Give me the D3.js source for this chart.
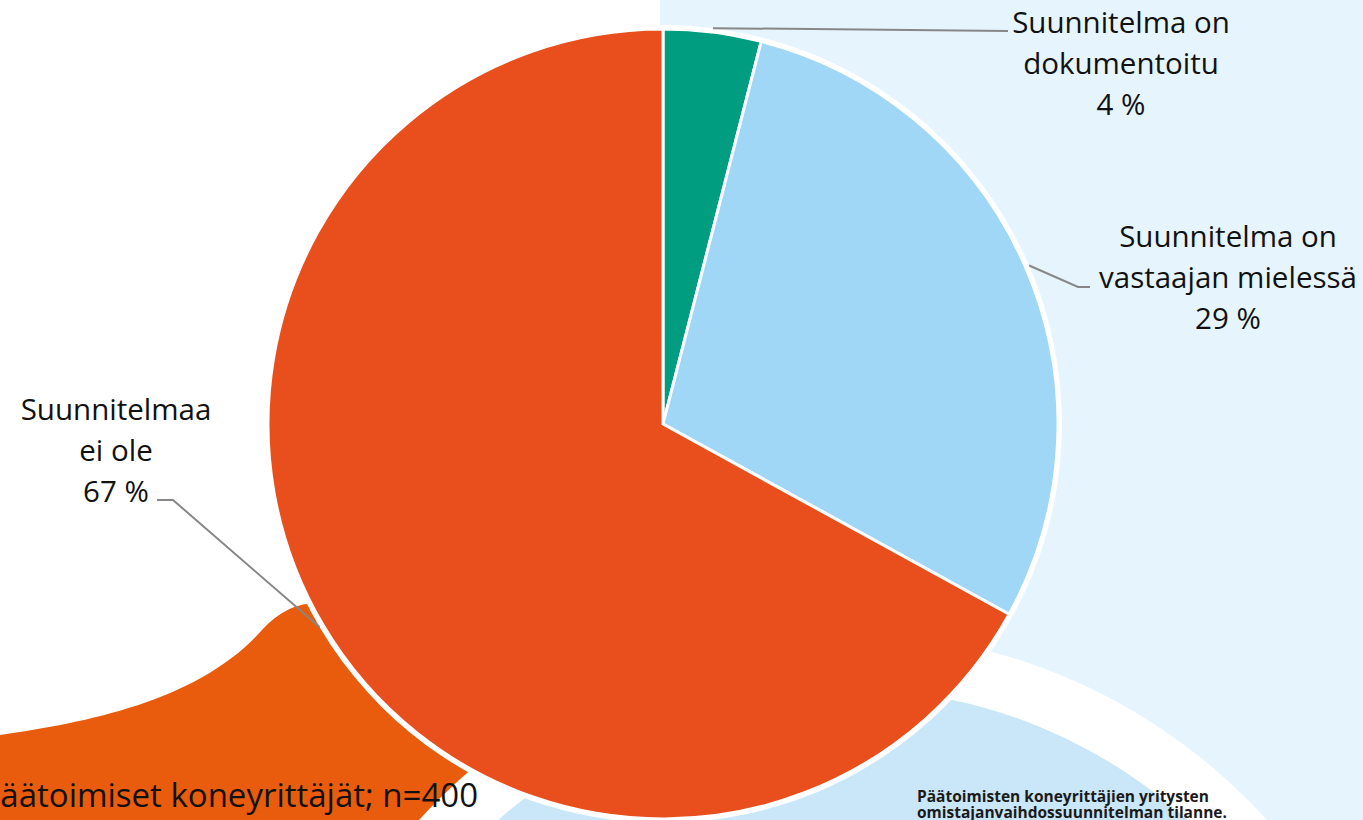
<!DOCTYPE html>
<html>
<head>
<meta charset="utf-8">
<script src="https://cdn.jsdelivr.net/npm/d3@7"></script>
<style>
  html, body { margin: 0; padding: 0; background: #ffffff; overflow: hidden; }
  svg { display: block; }
</style>
</head>
<body>
<svg id="chart" width="1363" height="820"></svg>
<script>
// ---- data ----
const categories = ["Suunnitelma on dokumentoitu", "Suunnitelma on vastaajan mielessä", "Suunnitelmaa ei ole"];
const values = [4, 29, 67];
const labelLines = [
  ["Suunnitelma on", "dokumentoitu", "4 %"],
  ["Suunnitelma on", "vastaajan mielessä", "29 %"],
  ["Suunnitelmaa", "ei ole", "67 %"]
];
const colors = ["#009D81", "#A0D6F6", "#E94F1C"];
const sampleNote = "Päätoimiset koneyrittäjät; n=400";
const captionLines = ["Päätoimisten koneyrittäjien yritysten", "omistajanvaihdossuunnitelman tilanne."];

// ---- layout ----
const W = 1363, H = 820;
const cx = 663, cy = 424, R = 395;
const svg = d3.select("#chart");
const FONT = "'Open Sans', 'Noto Sans', sans-serif";

// background decorations
svg.append("rect").attr("x", 660).attr("y", 0).attr("width", W - 660).attr("height", H).attr("fill", "#E6F4FD");
svg.append("path")
  .attr("d", "M0,735 C90,722 200,700 262,630 C280,610 300,603 312,604 L560,860 L0,860 Z")
  .attr("fill", "#E95C0D");
const ringC = [843, 1204];
svg.append("circle").attr("cx", ringC[0]).attr("cy", ringC[1]).attr("r", 572).attr("fill", "#ffffff");
svg.append("circle").attr("cx", ringC[0]).attr("cy", ringC[1]).attr("r", 516).attr("fill", "#C9E7F8");

// pie
const pie = d3.pie().sort(null).value(d => d)(values);
const arc = d3.arc().innerRadius(0).outerRadius(R);
const g = svg.append("g").attr("transform", `translate(${cx},${cy})`);
g.append("circle").attr("r", R + 4).attr("fill", "#ffffff");
g.selectAll("path.slice").data(pie).enter().append("path")
  .attr("class", "slice")
  .attr("d", arc)
  .attr("fill", (d, i) => colors[i])
  .attr("stroke", "#ffffff")
  .attr("stroke-width", 3)
  .attr("stroke-linejoin", "round");

// leaders
function edgePoint(d) {
  const a = (d.startAngle + d.endAngle) / 2;
  return [cx + (R + 4) * Math.sin(a), cy - (R + 4) * Math.cos(a)];
}
const leaderBends = [
  [[1008, 31]],
  [[1078, 287], [1090, 287]],
  [[173, 500], [157, 500]]
];
pie.forEach((d, i) => {
  const pts = [edgePoint(d)].concat(leaderBends[i]);
  svg.append("path")
    .attr("d", d3.line()(pts))
    .attr("fill", "none")
    .attr("stroke", "#878787")
    .attr("stroke-width", 2);
});

// labels
const labelPos = [
  { x: 1121, y: 33 },
  { x: 1228, y: 247 },
  { x: 116, y: 420 }
];
labelLines.forEach((lines, i) => {
  const t = svg.append("text")
    .attr("x", labelPos[i].x).attr("y", labelPos[i].y)
    .attr("text-anchor", "middle")
    .attr("font-family", FONT)
    .attr("font-size", 29.5)
    .attr("fill", "#111111");
  lines.forEach((ln, j) => {
    t.append("tspan").attr("x", labelPos[i].x).attr("dy", j === 0 ? 0 : 41).text(ln);
  });
});

// sample note
svg.append("text")
  .attr("x", 478).attr("y", 807)
  .attr("text-anchor", "end")
  .attr("font-family", FONT)
  .attr("font-size", 33)
  .attr("fill", "#111111")
  .text(sampleNote);

// caption
const cap = svg.append("text")
  .attr("x", 917).attr("y", 802)
  .attr("font-family", FONT)
  .attr("font-size", 15.5)
  .attr("font-weight", "bold")
  .attr("fill", "#1a1a1a");
captionLines.forEach((ln, j) => {
  cap.append("tspan").attr("x", 917).attr("dy", j === 0 ? 0 : 16).text(ln);
});
</script>
</body>
</html>
